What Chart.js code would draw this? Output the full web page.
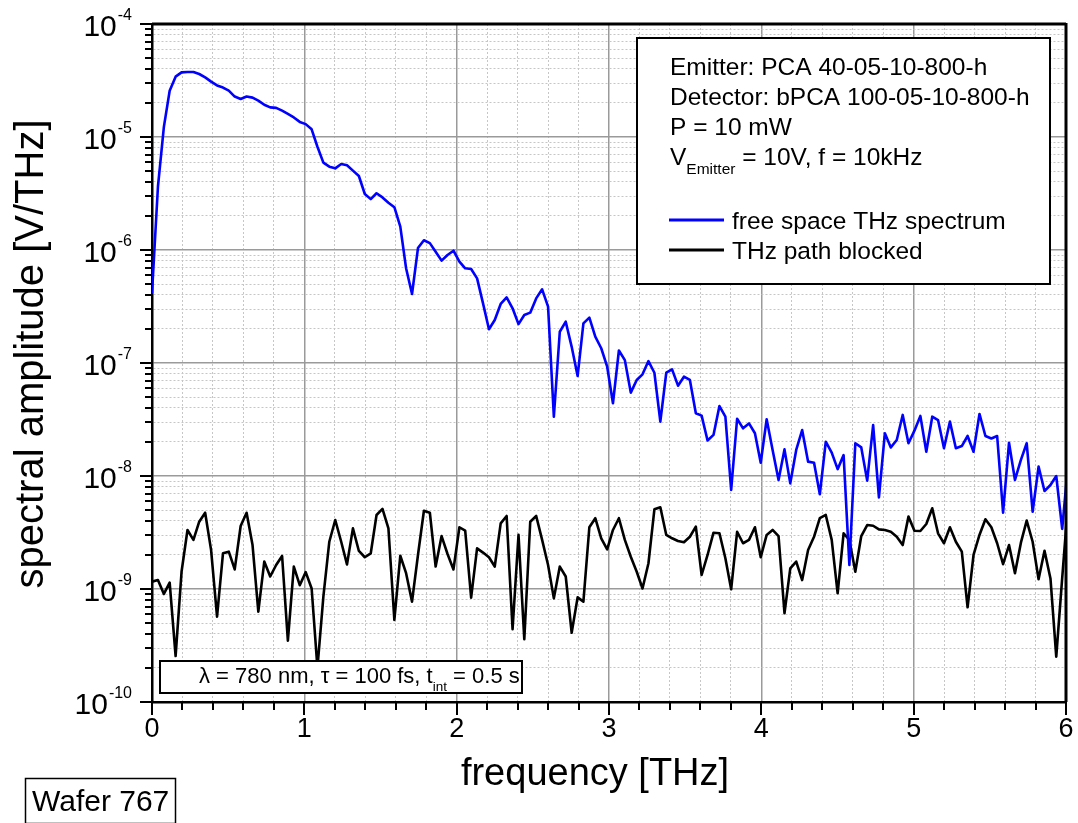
<!DOCTYPE html>
<html>
<head>
<meta charset="utf-8">
<script src="https://cdn.jsdelivr.net/npm/chart.js@4.4.1/dist/chart.umd.min.js"></script>
<style>
  body { margin: 0; background: #fff; }
</style>
</head>
<body>
<canvas id="spectrumChart" width="1078" height="823"></canvas>
<script>
// frequency axis [THz], one point per FFT bin
var frequency = [0, 0.039, 0.078, 0.116, 0.155, 0.194, 0.233, 0.272, 0.310, 0.349, 0.388, 0.427, 0.466, 0.504, 0.543, 0.582,
  0.621, 0.660, 0.698, 0.737, 0.776, 0.815, 0.854, 0.892, 0.931, 0.970, 1.009, 1.048, 1.086, 1.125, 1.164, 1.203,
  1.242, 1.280, 1.319, 1.358, 1.397, 1.436, 1.474, 1.513, 1.552, 1.591, 1.630, 1.668, 1.707, 1.746, 1.785, 1.824,
  1.862, 1.901, 1.940, 1.979, 2.018, 2.056, 2.095, 2.134, 2.173, 2.212, 2.250, 2.289, 2.328, 2.367, 2.406, 2.444,
  2.483, 2.522, 2.561, 2.600, 2.638, 2.677, 2.716, 2.755, 2.794, 2.832, 2.871, 2.910, 2.949, 2.988, 3.026, 3.065,
  3.104, 3.143, 3.182, 3.220, 3.259, 3.298, 3.337, 3.376, 3.414, 3.453, 3.492, 3.531, 3.570, 3.608, 3.647, 3.686,
  3.725, 3.764, 3.802, 3.841, 3.880, 3.919, 3.958, 3.996, 4.035, 4.074, 4.113, 4.152, 4.190, 4.229, 4.268, 4.307,
  4.346, 4.384, 4.423, 4.462, 4.501, 4.540, 4.578, 4.617, 4.656, 4.695, 4.734, 4.772, 4.811, 4.850, 4.889, 4.928,
  4.966, 5.005, 5.044, 5.083, 5.122, 5.160, 5.199, 5.238, 5.277, 5.316, 5.354, 5.393, 5.432, 5.471, 5.510, 5.548,
  5.587, 5.626, 5.665, 5.704, 5.742, 5.781, 5.820, 5.859, 5.898, 5.936, 5.975, 6.014];

// free space THz spectrum [V/THz]
var freeSpace = [4.14e-7, 3.63e-6, 1.23e-5, 2.57e-5, 3.42e-5, 3.73e-5, 3.76e-5, 3.76e-5, 3.61e-5, 3.37e-5,
  3.09e-5, 2.86e-5, 2.74e-5, 2.57e-5, 2.28e-5, 2.17e-5, 2.28e-5, 2.23e-5, 2.10e-5, 1.93e-5,
  1.83e-5, 1.81e-5, 1.71e-5, 1.60e-5, 1.49e-5, 1.36e-5, 1.30e-5, 1.17e-5, 8.20e-6, 5.93e-6,
  5.46e-6, 5.28e-6, 5.77e-6, 5.62e-6, 5.04e-6, 4.52e-6, 3.13e-6, 2.82e-6, 3.18e-6, 2.92e-6,
  2.62e-6, 2.39e-6, 1.61e-6, 6.89e-7, 4.08e-7, 1.04e-6, 1.22e-6, 1.15e-6, 9.66e-7, 8.05e-7,
  9.04e-7, 9.86e-7, 7.89e-7, 6.89e-7, 6.79e-7, 5.61e-7, 3.37e-7, 1.99e-7, 2.40e-7, 3.33e-7,
  3.81e-7, 3.05e-7, 2.21e-7, 2.66e-7, 2.79e-7, 3.73e-7, 4.49e-7, 3.15e-7, 3.35e-8, 1.89e-7,
  2.32e-7, 1.39e-7, 7.67e-8, 2.24e-7, 2.52e-7, 1.71e-7, 1.35e-7, 9.27e-8, 4.40e-8, 1.29e-7,
  1.06e-7, 5.47e-8, 7.08e-8, 7.94e-8, 1.04e-7, 8.20e-8, 3.03e-8, 8.20e-8, 8.79e-8, 6.30e-8,
  7.57e-8, 7.08e-8, 3.59e-8, 3.42e-8, 2.06e-8, 2.31e-8, 4.16e-8, 3.35e-8, 7.52e-9, 3.21e-8,
  2.64e-8, 2.92e-8, 2.39e-8, 1.31e-8, 3.18e-8, 1.70e-8, 9.23e-9, 1.72e-8, 8.61e-9, 1.70e-8,
  2.55e-8, 1.34e-8, 1.31e-8, 6.89e-9, 2.01e-8, 1.61e-8, 1.15e-8, 1.53e-8, 1.63e-9, 1.95e-8,
  1.79e-8, 9.10e-9, 2.82e-8, 6.47e-9, 2.39e-8, 1.79e-8, 2.08e-8, 3.47e-8, 1.95e-8, 2.52e-8,
  3.40e-8, 1.64e-8, 3.35e-8, 3.13e-8, 1.76e-8, 3.03e-8, 1.76e-8, 1.84e-8, 2.26e-8, 1.64e-8,
  3.54e-8, 2.26e-8, 2.15e-8, 2.26e-8, 4.73e-9, 1.97e-8, 9.23e-9, 1.39e-8, 1.95e-8, 4.83e-9,
  1.21e-8, 7.36e-9, 8.32e-9, 1.00e-8, 3.40e-9, 1.29e-8];

// THz path blocked (noise floor) [V/THz]
var blocked = [1.16e-9, 1.20e-9, 9.04e-10, 1.14e-9, 2.55e-10, 1.42e-9, 3.33e-9, 2.72e-9, 3.94e-9, 4.73e-9,
  2.21e-9, 5.69e-10, 2.07e-9, 2.14e-9, 1.49e-9, 3.61e-9, 4.73e-9, 2.45e-9, 6.30e-10, 1.75e-9,
  1.29e-9, 1.63e-9, 1.96e-9, 3.49e-10, 1.58e-9, 1.08e-9, 1.41e-9, 1.01e-9, 2.00e-10, 8.55e-10,
  2.62e-9, 4.08e-9, 2.62e-9, 1.65e-9, 3.44e-9, 2.17e-9, 1.91e-9, 2.07e-9, 4.52e-9, 5.11e-9,
  3.44e-9, 5.32e-10, 1.97e-9, 1.38e-9, 7.73e-10, 2.00e-9, 4.93e-9, 4.73e-9, 1.58e-9, 2.94e-9,
  2.04e-9, 1.49e-9, 3.52e-9, 3.28e-9, 8.38e-10, 2.29e-9, 2.10e-9, 1.91e-9, 1.58e-9, 3.81e-9,
  4.43e-9, 4.40e-10, 3.01e-9, 3.59e-10, 3.94e-9, 4.43e-9, 2.72e-9, 1.63e-9, 8.26e-10, 1.58e-9,
  1.29e-9, 4.10e-10, 8.43e-10, 7.73e-10, 3.52e-9, 4.23e-9, 2.81e-9, 2.24e-9, 3.33e-9, 4.23e-9,
  2.72e-9, 1.93e-9, 1.42e-9, 1.01e-9, 1.69e-9, 5.07e-9, 5.28e-9, 3.01e-9, 2.81e-9, 2.66e-9,
  2.59e-9, 2.90e-9, 3.56e-9, 1.33e-9, 2.00e-9, 3.15e-9, 3.11e-9, 1.87e-9, 9.93e-10, 3.21e-9,
  2.54e-9, 2.72e-9, 3.52e-9, 1.91e-9, 3.01e-9, 3.33e-9, 2.94e-9, 6.10e-10, 1.52e-9, 1.75e-9,
  1.20e-9, 2.21e-9, 2.90e-9, 4.23e-9, 4.52e-9, 2.72e-9, 9.16e-10, 3.11e-9, 2.72e-9, 1.42e-9,
  2.94e-9, 3.68e-9, 3.63e-9, 3.37e-9, 3.33e-9, 3.21e-9, 2.90e-9, 2.45e-9, 4.37e-9, 3.28e-9,
  3.26e-9, 3.76e-9, 5.18e-9, 3.11e-9, 2.54e-9, 3.52e-9, 2.62e-9, 2.14e-9, 6.89e-10, 2.00e-9,
  3.01e-9, 4.14e-9, 3.52e-9, 2.54e-9, 1.66e-9, 2.45e-9, 1.38e-9, 2.57e-9, 4.03e-9, 2.62e-9,
  1.22e-9, 2.18e-9, 1.24e-9, 2.52e-10, 1.25e-9, 5.89e-9];

var xTickLabels = ['0', '1', '2', '3', '4', '5', '6'];
var yTickExponents = ['-10', '-9', '-8', '-7', '-6', '-5', '-4'];
var infoLines = ['Emitter: PCA 40-05-10-800-h', 'Detector: bPCA 100-05-10-800-h', 'P = 10 mW'];

var FONT = '"Liberation Sans", Arial, sans-serif';

// grid positions: every 0.2 THz, and 1..9 per decade
var xGrid = [];
for (var k = 0; k <= 30; k++) xGrid.push(Math.round(k * 2) / 10);
var yGrid = [];
for (var e = -10; e < -4; e++) {
    for (var m = 1; m <= 9; m++) yGrid.push(m * Math.pow(10, e));
}
yGrid.push(1e-4);

function isMajorX(v) { return Math.abs(v - Math.round(v)) < 1e-6; }
function isMajorY(v) { var l = Math.log10(v); return Math.abs(l - Math.round(l)) < 1e-6; }

function toPoints(ys) {
    return frequency.map(function (f, i) { return {x: f, y: ys[i]}; });
}

function font(size) { return size + 'px ' + FONT; }

// text with sub/superscript pieces
function drawParts(ctx, parts, x, y) {
    parts.forEach(function (p) {
        ctx.font = font(p.size);
        ctx.fillText(p.t, x, y + (p.dy || 0));
        x += ctx.measureText(p.t).width;
    });
}

var decorations = {
    id: 'decorations',
    afterDatasetsDraw: function (chart) {
        var ctx = chart.ctx;
        var area = chart.chartArea;
        var xs = chart.scales.x, ys = chart.scales.y;
        ctx.save();
        ctx.fillStyle = '#000';
        ctx.strokeStyle = '#000';

        // frame top and right
        ctx.lineWidth = 3;
        ctx.beginPath();
        ctx.moveTo(area.left, area.top);
        ctx.lineTo(area.right, area.top);
        ctx.stroke();
        ctx.beginPath();
        ctx.moveTo(area.right, area.top - 1);
        ctx.lineTo(area.right, area.bottom);
        ctx.stroke();

        // tick marks (outside)
        ctx.lineWidth = 2;
        xGrid.forEach(function (v) {
            var px = Math.round(xs.getPixelForValue(v));
            ctx.beginPath();
            ctx.moveTo(px, area.bottom);
            ctx.lineTo(px, area.bottom + (isMajorX(v) ? 13 : 8));
            ctx.stroke();
        });
        yGrid.forEach(function (v) {
            var py = Math.round(ys.getPixelForValue(v));
            ctx.beginPath();
            ctx.moveTo(area.left, py);
            ctx.lineTo(area.left - (isMajorY(v) ? 12 : 7), py);
            ctx.stroke();
        });

        // x tick labels
        ctx.textAlign = 'center';
        ctx.textBaseline = 'alphabetic';
        ctx.font = font(27);
        xTickLabels.forEach(function (lab) {
            ctx.fillText(lab, xs.getPixelForValue(Number(lab)), area.bottom + 35);
        });

        // y tick labels 10^n
        ctx.textAlign = 'left';
        yTickExponents.forEach(function (ex) {
            var py = ys.getPixelForValue(Math.pow(10, Number(ex)));
            ctx.font = font(16);
            var wExp = ctx.measureText(ex).width;
            ctx.font = font(30);
            var wTen = ctx.measureText('10').width;
            var xExp = 132 - wExp;
            ctx.fillText('10', xExp - wTen - 1, py + 12);
            ctx.font = font(16);
            ctx.fillText(ex, xExp, py - 4);
        });

        // axis titles
        ctx.textAlign = 'center';
        ctx.font = font(38);
        ctx.fillText('frequency [THz]', 595, 785);
        ctx.font = font(40);
        ctx.save();
        ctx.translate(43, 354);
        ctx.rotate(-Math.PI / 2);
        ctx.fillText('spectral amplitude [V/THz]', 0, 0);
        ctx.restore();

        // legend box
        ctx.textAlign = 'left';
        ctx.fillStyle = '#fff';
        ctx.fillRect(637, 38, 413, 246);
        ctx.lineWidth = 2;
        ctx.strokeRect(637, 38, 413, 246);
        ctx.fillStyle = '#000';
        ctx.font = font(24.5);
        infoLines.forEach(function (s, i) {
            ctx.fillText(s, 670, 75 + i * 30);
        });
        drawParts(ctx, [{t: 'V', size: 24.5}, {t: 'Emitter', size: 15.5, dy: 9}, {t: ' = 10V, f = 10kHz', size: 24.5}], 670, 165);
        chart.data.datasets.forEach(function (ds, i) {
            var y = 220 + i * 30;
            ctx.strokeStyle = ds.borderColor;
            ctx.lineWidth = 3;
            ctx.beginPath();
            ctx.moveTo(669, y);
            ctx.lineTo(724, y);
            ctx.stroke();
            ctx.font = font(24.5);
            ctx.fillText(ds.label, 732, y + 8.5);
        });

        // measurement note box
        ctx.fillStyle = '#fff';
        ctx.fillRect(160, 661, 362, 32);
        ctx.strokeStyle = '#000';
        ctx.lineWidth = 2;
        ctx.strokeRect(160, 661, 362, 32);
        ctx.fillStyle = '#000';
        drawParts(ctx, [{t: '\u03bb = 780 nm, \u03c4 = 100 fs, t', size: 22}, {t: 'int', size: 13.5, dy: 8}, {t: ' = 0.5 s', size: 22}], 199, 683);

        // wafer label
        ctx.lineWidth = 1.5;
        ctx.strokeRect(25.5, 778.5, 150, 45);
        ctx.font = font(30);
        ctx.fillText('Wafer 767', 32, 811);

        ctx.restore();
    }
};

var spectrumChart = new Chart(document.getElementById('spectrumChart').getContext('2d'), {
    type: 'line',
    data: {
        datasets: [{
            label: 'free space THz spectrum',
            data: toPoints(freeSpace),
            borderColor: '#0000ff',
            borderWidth: 2.6,
            pointRadius: 0,
            tension: 0
        }, {
            label: 'THz path blocked',
            data: toPoints(blocked),
            borderColor: '#000000',
            borderWidth: 2.6,
            pointRadius: 0,
            tension: 0
        }]
    },
    options: {
        responsive: false,
        animation: false,
        devicePixelRatio: 1,
        layout: {padding: {top: 24, right: 12, left: 0, bottom: 0}},
        plugins: {legend: {display: false}, tooltip: {enabled: false}},
        elements: {line: {borderJoinStyle: 'round'}},
        scales: {
            x: {
                type: 'linear',
                min: 0,
                max: 6,
                afterBuildTicks: function (scale) {
                    scale.ticks = xGrid.map(function (v) { return {value: v}; });
                },
                afterFit: function (scale) { scale.height = 121; },
                ticks: {display: false},
                grid: {
                    drawTicks: false,
                    color: function (c) { return c.tick && isMajorX(c.tick.value) ? '#9a9a9a' : '#c6c6c6'; },
                    lineWidth: function (c) { return c.tick && isMajorX(c.tick.value) ? 1.5 : 1; }
                },
                border: {
                    color: '#000',
                    width: 2.5,
                    dash: function (c) { return c.tick && !isMajorX(c.tick.value) ? [2, 2] : []; }
                }
            },
            y: {
                type: 'logarithmic',
                min: 1e-10,
                max: 1e-4,
                afterBuildTicks: function (scale) {
                    scale.ticks = yGrid.map(function (v) { return {value: v}; });
                },
                afterFit: function (scale) { scale.width = 152; },
                ticks: {display: false},
                grid: {
                    drawTicks: false,
                    color: function (c) { return c.tick && isMajorY(c.tick.value) ? '#9a9a9a' : '#c6c6c6'; },
                    lineWidth: function (c) { return c.tick && isMajorY(c.tick.value) ? 1.5 : 1; }
                },
                border: {
                    color: '#000',
                    width: 2.5,
                    dash: function (c) { return c.tick && !isMajorY(c.tick.value) ? [2, 2] : []; }
                }
            }
        }
    },
    plugins: [decorations]
});
</script>
</body>
</html>
